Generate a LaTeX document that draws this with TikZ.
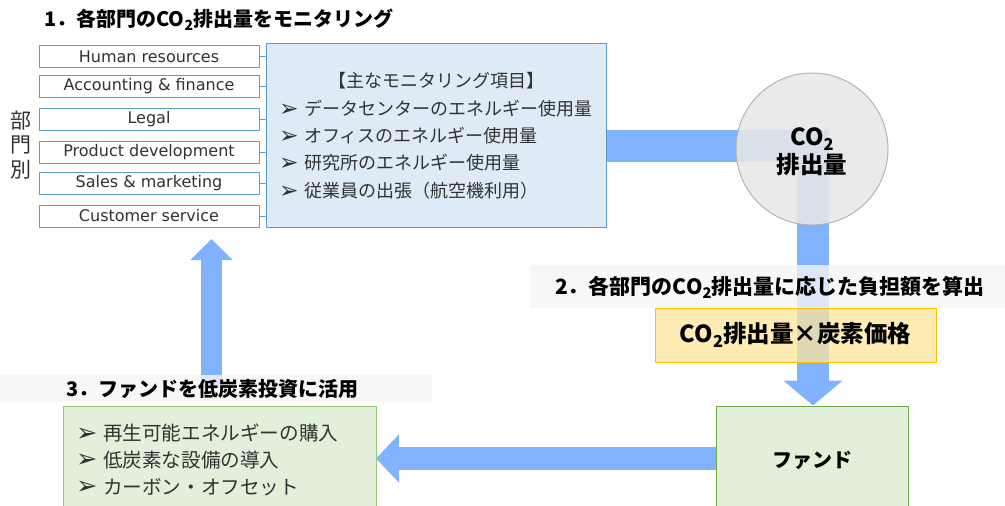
\documentclass[tikz,border=0pt]{standalone}
\usepackage{fontspec}
\usepackage{graphicx}
\setmainfont{Noto Sans CJK JP}
\newfontfamily\dv{DejaVu Sans}
\usetikzlibrary{arrows.meta}
\definecolor{arrowblue}{RGB}{128,178,255}
\definecolor{deptblue}{RGB}{91,155,213}
\definecolor{boxblue}{RGB}{222,235,247}
\definecolor{circfill}{RGB}{231,231,231}
\definecolor{circline}{RGB}{180,180,180}
\definecolor{yelfill}{RGB}{255,230,153}
\definecolor{yelline}{RGB}{255,192,0}
\definecolor{grnfill}{RGB}{226,239,218}
\definecolor{grnline}{RGB}{112,173,71}
\definecolor{grnlinelt}{RGB}{150,200,115}
\definecolor{txtgray}{RGB}{50,50,50}
\definecolor{labbg}{RGB}{245,245,245}
\newcommand\subtwo{\raisebox{-0.35ex}{\scalebox{0.7}{2}}}
\newcommand\bul{\raisebox{-0.05ex}{\scalebox{1.3}{\dv ➢}}}
\pgfdeclarelayer{bg}
\pgfsetlayers{bg,main}
\begin{document}
\begin{tikzpicture}[x=1pt,y=-1pt,
  deptbox/.style={draw=deptblue, line width=0.9pt, fill=white, minimum width=220pt, minimum height=22pt, inner sep=0pt, text=txtgray, font=\dv\fontsize{16}{18}\selectfont},
  deptlink/.style={draw=deptblue, line width=0.8pt},
  bigarrow/.style={draw=arrowblue},
  headtxt/.style={anchor=west, inner sep=0pt, font=\bfseries\fontsize{20}{24}\selectfont},
  itemtxt/.style={anchor=west, inner sep=0pt, text=txtgray, font=\fontsize{18}{22}\selectfont},
  itemtxtg/.style={anchor=west, inner sep=0pt, text=txtgray, font=\fontsize{19.6}{22}\selectfont},
  labelbg/.style={fill=labbg, fill opacity=0.8, draw=none, inner sep=0pt}
]
\clip (0,0) rectangle (1005,506);

% title 1
\node[headtxt] (t1) at (44,20) {1．各部門のCO\subtwo 排出量をモニタリング};

% department label
\node[align=center, inner sep=0pt, text=txtgray, font=\fontsize{21}{24.5}\selectfont] (bumon) at (21,145) {部\\門\\別};

% department boxes
\node[deptbox] (d1) at (149,56.5) {Human resources};
\node[deptbox] (d2) at (149,86.5) {Accounting \& finance};
\node[deptbox] (d3) at (149,119) {Legal};
\node[deptbox] (d4) at (149,152) {Product development};
\node[deptbox] (d5) at (149,183) {Sales \& marketing};
\node[deptbox] (d6) at (149,216) {Customer service};

% monitoring box
\node[draw=deptblue, line width=1pt, fill=boxblue, minimum width=340pt, minimum height=184pt, inner sep=0pt] (big) at (436,135) {};
\foreach \d in {d1,d2,d3,d4,d5,d6}{
  \draw[deptlink] (\d.east) -- (\d.east -| big.west);
}
\node[inner sep=0pt, text=txtgray, font=\fontsize{18}{22}\selectfont] (mh) at (436,81) {【主なモニタリング項目】};
\node[itemtxt] (m1) at (279,109) {\bul\hspace{5.5pt}データセンターのエネルギー使用量};
\node[itemtxt] (m2) at (279,136) {\bul\hspace{5.5pt}オフィスのエネルギー使用量};
\node[itemtxt] (m3) at (279,163) {\bul\hspace{5.5pt}研究所のエネルギー使用量};
\node[itemtxt] (m4) at (279,191) {\bul\hspace{5.5pt}従業員の出張（航空機利用）};

% fund box
\node[draw=grnline, line width=1pt, fill=grnfill, minimum width=192pt, minimum height=114pt, inner sep=0pt] (fund) at (812,463) {};
\node[inner sep=0pt, font=\bfseries\fontsize{20}{24}\selectfont] (fundt) at (812,460) {ファンド};

% invest box
\node[draw=grnlinelt, line width=1pt, fill=grnfill, minimum width=313pt, minimum height=114pt, inner sep=0pt] (inv) at (219.5,463) {};
\node[itemtxtg] (i1) at (76,433) {\bul\hspace{5.5pt}再生可能エネルギーの購入};
\node[itemtxtg] (i2) at (76,460) {\bul\hspace{5.5pt}低炭素な設備の導入};
\node[itemtxtg] (i3) at (76,487) {\bul\hspace{5.5pt}カーボン・オフセット};

% arrows (background layer)
\coordinate (c1) at (813,145.5);
\coordinate (lt) at (376,458.5);
\coordinate (uptip) at (211.5,239);
\begin{pgfonlayer}{bg}
\draw[bigarrow, line width=32pt, line join=miter, -{Triangle[width=58pt,length=25pt]}] (big.east |- c1) -- (c1) -- (fund.north -| c1);
\draw[bigarrow, line width=23pt, -{Triangle[width=47pt,length=23pt]}] (fund.west |- lt) -- (lt);
\draw[bigarrow, line width=21pt, -{Triangle[width=41pt,length=21pt]}] (211.5,388) -- (uptip);
\end{pgfonlayer}

% CO2 circle
\node[circle, draw=circline, line width=1pt, fill=circfill, fill opacity=0.88, text opacity=1, minimum size=152pt, inner sep=0pt] (circ) at (812,149) {};
\node[align=center, inner sep=0pt, font=\bfseries\fontsize{23.5}{28}\selectfont] (circt) at (812,152) {CO\subtwo\\排出量};

% label 2
\node[labelbg, minimum width=475pt, minimum height=43pt] (lab2bg) at (767.5,286.5) {};
\node[headtxt, font=\bfseries\fontsize{21}{24}\selectfont] (lab2) at (555,287) {2．各部門のCO\subtwo 排出量に応じた負担額を算出};

% formula box
\node[draw=yelline, line width=1pt, fill=yelfill, fill opacity=0.75, text opacity=1, minimum width=281pt, minimum height=54pt, inner sep=0pt, font=\bfseries\fontsize{23.5}{26}\selectfont] (formula) at (795.5,335) {CO\subtwo 排出量×炭素価格};

% label 3
\node[labelbg, minimum width=432pt, minimum height=27pt] (lab3bg) at (216,388.5) {};
\node[headtxt] (lab3) at (66,389) {3．ファンドを低炭素投資に活用};

\end{tikzpicture}
\end{document}
